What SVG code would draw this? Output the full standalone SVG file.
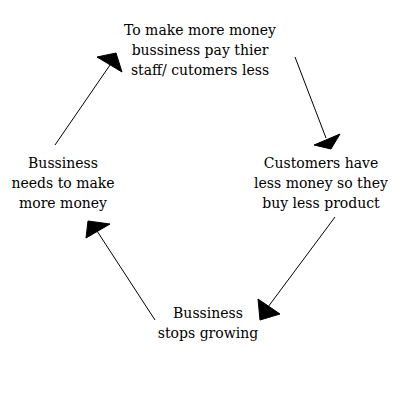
<svg xmlns="http://www.w3.org/2000/svg" width="400" height="400" viewBox="0 0 400 400">
<style>
text{font-family:"DejaVu Serif","Liberation Serif",serif;font-size:14px;fill:#000;text-anchor:middle}
.ln{stroke:#000;stroke-width:1;fill:none}
.head{fill:#000;stroke:#000;stroke-width:1;stroke-linejoin:miter}
</style>
<rect width="400" height="400" fill="#fff"/>
<g id="connectors">
<line class="ln" x1="55" y1="145" x2="110" y2="65"/>
<polygon class="head" points="116,53 97,57 122,72"/>
<line class="ln" x1="295" y1="57" x2="326" y2="138"/>
<polygon class="head" points="331,149 314,145 340,134"/>
<line class="ln" x1="335" y1="217" x2="268" y2="307"/>
<polygon class="head" points="260,320 258,299 280,314"/>
<line class="ln" x1="155" y1="320" x2="97" y2="231"/>
<polygon class="head" points="88,221 110,224 86,238"/>
</g>
<g id="node-top">
<text x="200" y="35">To make more money</text>
<text x="200" y="55">bussiness pay thier</text>
<text x="200" y="75">staff/ cutomers less</text>
</g>
<g id="node-right">
<text x="321" y="168">Customers have</text>
<text x="321" y="188">less money so they</text>
<text x="321" y="208">buy less product</text>
</g>
<g id="node-bottom">
<text x="208" y="318">Bussiness</text>
<text x="208" y="338">stops growing</text>
</g>
<g id="node-left">
<text x="63" y="168">Bussiness</text>
<text x="63" y="188">needs to make</text>
<text x="63" y="208">more money</text>
</g>
</svg>
